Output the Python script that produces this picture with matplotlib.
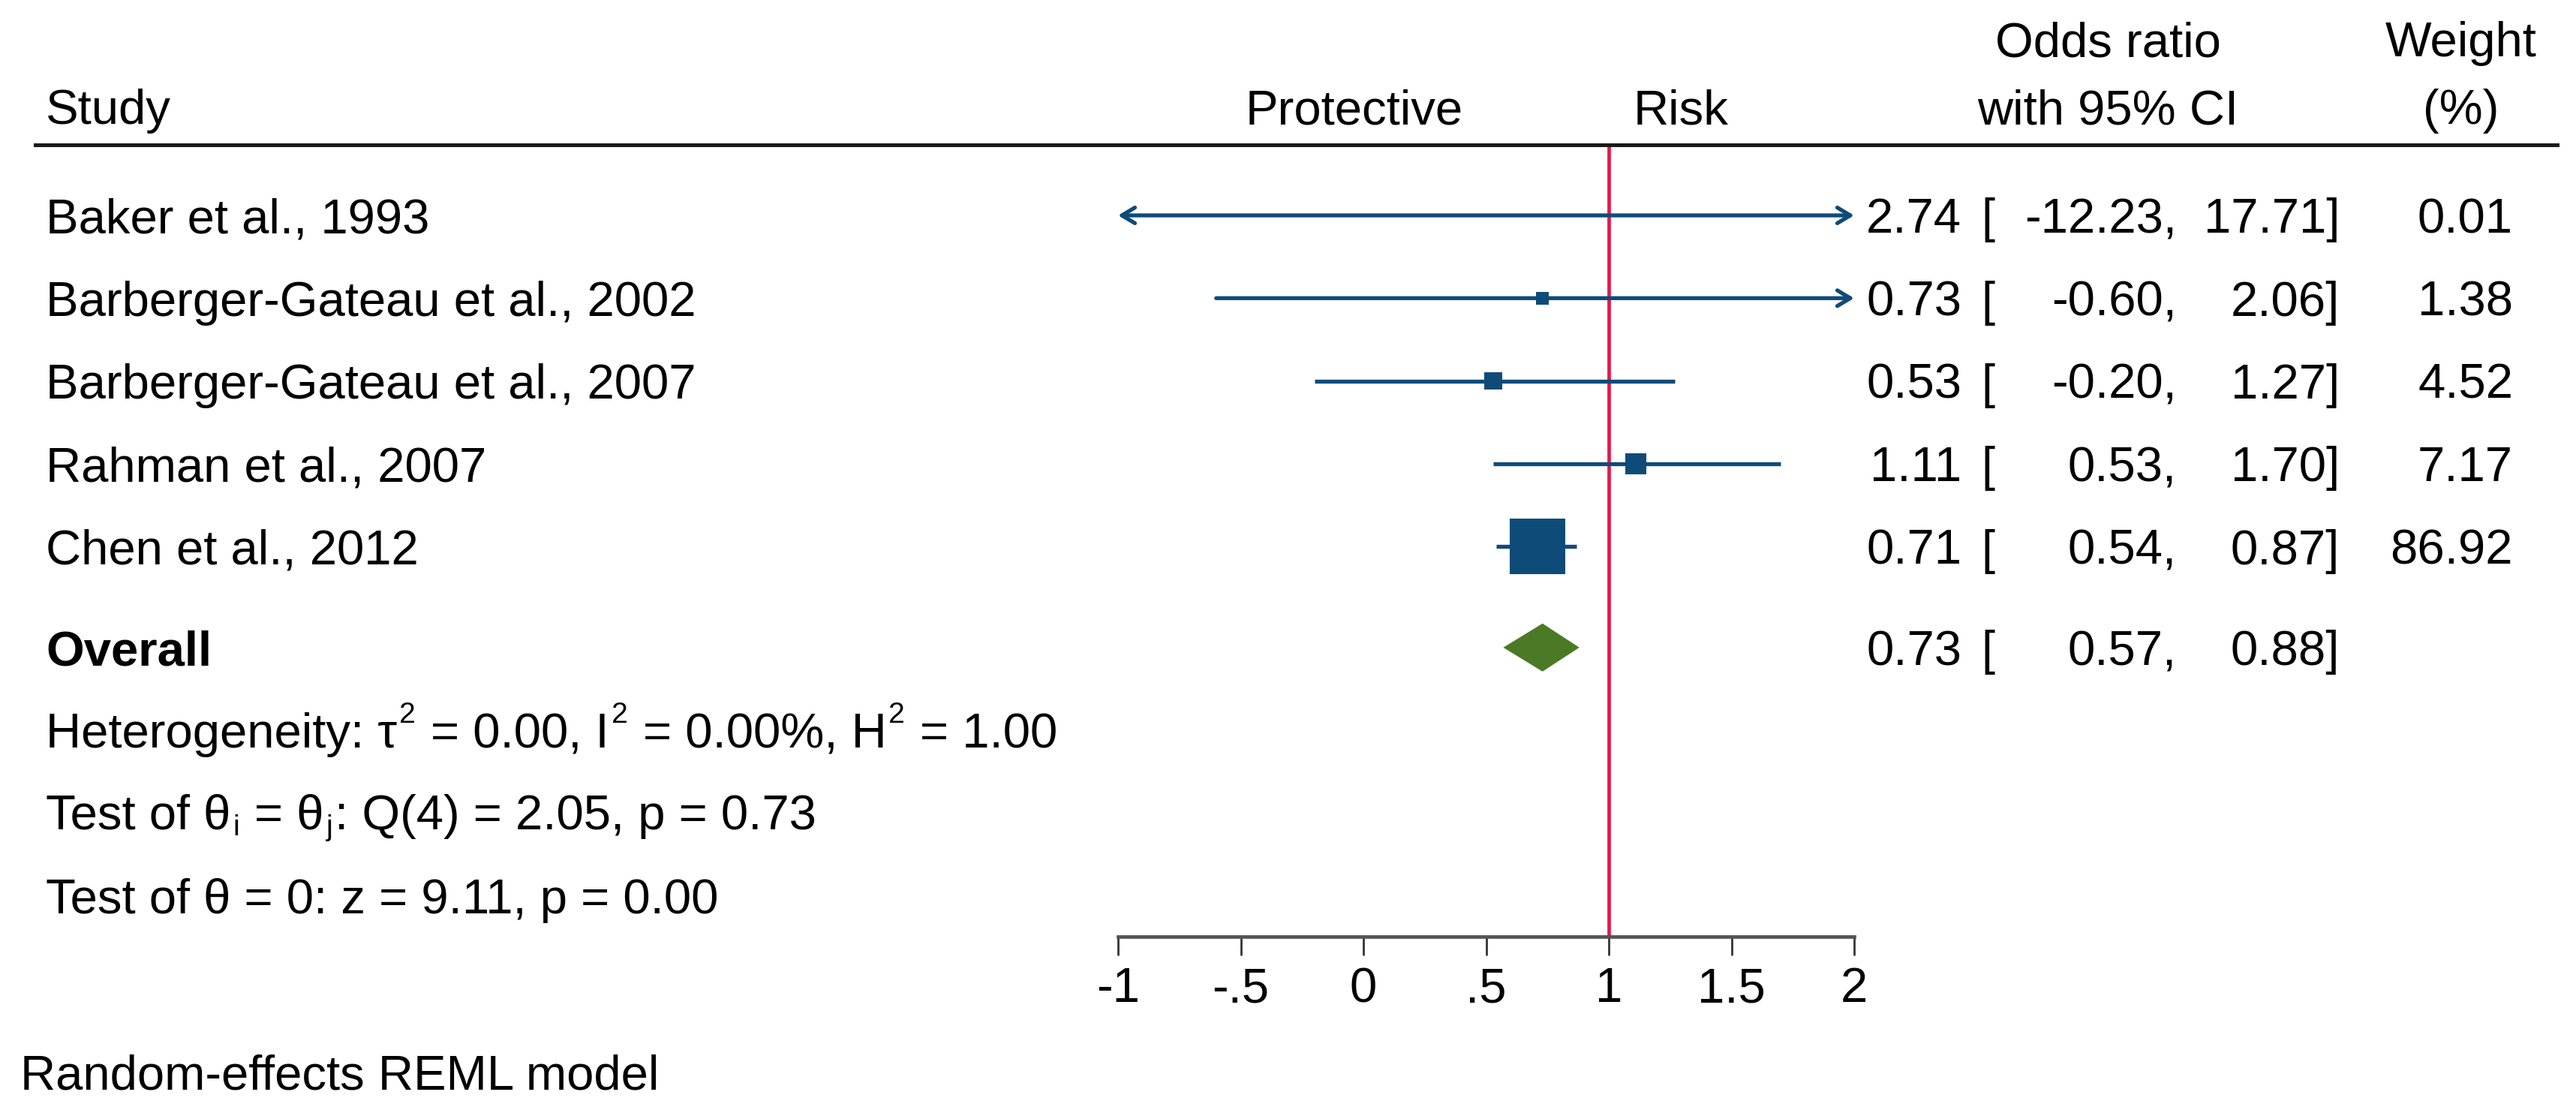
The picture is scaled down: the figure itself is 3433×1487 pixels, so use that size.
import numpy as np
import matplotlib
matplotlib.use('Agg')
import matplotlib.pyplot as plt
from matplotlib.transforms import blended_transform_factory, ScaledTranslation
from matplotlib.lines import Line2D

plt.rcParams['font.family'] = ['Liberation Sans', 'DejaVu Sans']

# ---- data -----------------------------------------------------------------
studies = ["Baker et al., 1993", "Barberger-Gateau et al., 2002",
           "Barberger-Gateau et al., 2007", "Rahman et al., 2007",
           "Chen et al., 2012"]
odds = [2.74, 0.73, 0.53, 1.11, 0.71]
ci_low = [-12.23, -0.60, -0.20, 0.53, 0.54]
ci_high = [17.71, 2.06, 1.27, 1.70, 0.87]
weights = [0.01, 1.38, 4.52, 7.17, 86.92]

overall_est = 0.73
overall_low = 0.57
overall_high = 0.88

# stats lines as runs: (text, kind) with kind n=normal, sup, sub
stats_lines = [
    [("Heterogeneity: τ", 'n'), ("2", 'sup'), (" = 0.00, I", 'n'), ("2", 'sup'),
     (" = 0.00%, H", 'n'), ("2", 'sup'), (" = 1.00", 'n')],
    [("Test of θ", 'n'), ("i", 'sub'), (" = θ", 'n'), ("j", 'sub'),
     (": Q(4) = 2.05, p = 0.73", 'n')],
    [("Test of θ = 0: z = 9.11, p = 0.00", 'n')],
]
xticks = [-1, -0.5, 0, 0.5, 1, 1.5, 2]
xtick_labels = ["-1", "-.5", "0", ".5", "1", "1.5", "2"]

# ---- layout (pixels of the 3433x1487 canvas) -----------------------------
W, H = 3433, 1487
FS = 47
NAVY = '#0f4b79'
GREEN = '#4a7a25'
RED = '#e3194b'

def fx(px):
    return px / W

def fy(py):
    return 1 - py / H

fig = plt.figure(figsize=(W / 100, H / 100), dpi=100)
renderer = fig.canvas.get_renderer()
ax_left, ax_right, ax_top, ax_bot = 1490, 2471, 193, 1248
ax = fig.add_axes([fx(ax_left), fy(ax_bot), fx(ax_right - ax_left), (ax_bot - ax_top) / H])

ROW_PX, ROW0_PX = 110.3, 287
ax.set_xlim(-1, 2)
ax.set_ylim((ax_bot - ROW0_PX) / ROW_PX, (ax_top - ROW0_PX) / ROW_PX)

rows = np.arange(len(studies))
overall_row = 5.22
stats_rows = [6.22, 7.2, 8.22]
base_off = 0.212  # baseline offset from row centre, in rows

# reference line at OR = 1
ax.axvline(1, color=RED, lw=3.4, zorder=1)

# confidence intervals (arrows where they leave the axis)
xmin, xmax = ax.get_xlim()
for r, lo, hi in zip(rows, ci_low, ci_high):
    lo_c, hi_c = max(lo, xmin), min(hi, xmax)
    left_cut, right_cut = lo < xmin, hi > xmax
    if not (left_cut or right_cut):
        ax.plot([lo_c, hi_c], [r, r], color=NAVY, lw=3.8, solid_capstyle='butt', zorder=2)
        continue
    style = {(True, True): '<->', (False, True): '->', (True, False): '<-'}[(left_cut, right_cut)]
    ax.annotate('', xy=(hi_c, r), xytext=(lo_c, r),
                arrowprops=dict(arrowstyle=style + ',head_length=0.5,head_width=0.3',
                                lw=3.8, color=NAVY, shrinkA=0, shrinkB=0,
                                mutation_scale=25), zorder=2)

# weighted squares
side_px = 8.8 + 7.0 * np.sqrt(np.array(weights))
side_pt = side_px * 72 / 100
ax.scatter(odds, rows, s=side_pt ** 2, marker='s', color=NAVY, linewidths=0, zorder=3)

# overall diamond
half_h = 0.29
ax.fill([overall_low, overall_est, overall_high, overall_est],
        [overall_row, overall_row - half_h, overall_row, overall_row + half_h],
        color=GREEN, lw=0, zorder=3)

# axes styling
for s in ['top', 'left', 'right']:
    ax.spines[s].set_visible(False)
ax.spines['bottom'].set_color('#555555')
ax.spines['bottom'].set_linewidth(3.4)
ax.set_yticks([])
ax.set_xticks(xticks, labels=xtick_labels)
ax.tick_params(axis='x', length=18, width=2, color='#333333', labelsize=FS, pad=11)
ax.patch.set_visible(False)

# ---- text -----------------------------------------------------------------
blend = blended_transform_factory(fig.transFigure, ax.transData)

# header
fig.text(fx(61), fy(165), "Study", fontsize=FS, va='baseline', ha='left')
fig.text(fx(1805), fy(165), "Protective", fontsize=FS, va='baseline', ha='center')
fig.text(fx(2240), fy(165), "Risk", fontsize=FS, va='baseline', ha='center')
fig.text(fx(2809), fy(75), "Odds ratio", fontsize=FS, va='baseline', ha='center')
fig.text(fx(2809), fy(165), "with 95% CI", fontsize=FS, va='baseline', ha='center')
fig.text(fx(3280), fy(75), "Weight", fontsize=FS, va='baseline', ha='center')
fig.text(fx(3280), fy(165), "(%)", fontsize=FS, va='baseline', ha='center')
fig.add_artist(Line2D([fx(47), fx(3408)], [fy(193), fy(193)], transform=fig.transFigure,
                      color='#1a1a1a', lw=3.6))

def value_cols(r, est, lo, hi, w=None, **kw):
    y = r + base_off
    fig.text(fx(2614), y, f"{est:.2f}", transform=blend, fontsize=FS, va='baseline', ha='right', **kw)
    fig.text(fx(2640), y, "[", transform=blend, fontsize=FS, va='baseline', ha='left', **kw)
    fig.text(fx(2901), y, f"{lo:.2f},", transform=blend, fontsize=FS, va='baseline', ha='right', **kw)
    fig.text(fx(3118), y, f"{hi:.2f}]", transform=blend, fontsize=FS, va='baseline', ha='right', **kw)
    if w is not None:
        fig.text(fx(3349), y, f"{w:.2f}", transform=blend, fontsize=FS, va='baseline', ha='right', **kw)

for r, name, est, lo, hi, w in zip(rows, studies, odds, ci_low, ci_high, weights):
    fig.text(fx(61), r + base_off, name, transform=blend, fontsize=FS, va='baseline', ha='left')
    value_cols(r, est, lo, hi, w)

fig.text(fx(61), overall_row + base_off, "Overall", transform=blend, fontsize=FS,
         va='baseline', ha='left', fontweight='bold')
value_cols(overall_row, overall_est, overall_low, overall_high)

# runs of text with Stata-like raised / lowered small characters
SPACE = 0.278 * FS * 100 / 72
RUN_STYLE = {'n': (FS, 0), 'sup': (FS * 0.6, 33), 'sub': (FS * 0.6, -8)}

def rich_text(x_px, y, pieces):
    x = x_px
    for txt, kind in pieces:
        lead = len(txt) - len(txt.lstrip(' '))
        trail = len(txt) - len(txt.rstrip(' '))
        body = txt.strip(' ')
        x += lead * SPACE
        size, dy = RUN_STYLE[kind]
        tr = blend + ScaledTranslation(0, dy / 100, fig.dpi_scale_trans)
        t = fig.text(fx(x), y, body, transform=tr, fontsize=size, va='baseline', ha='left')
        x += t.get_window_extent(renderer).width + trail * SPACE
        if kind == 'n':
            x += 3
        else:
            x += 2

for r, pieces in zip(stats_rows, stats_lines):
    rich_text(61, r + base_off, pieces)

fig.text(fx(27), fy(1452), "Random-effects REML model", fontsize=FS, va='baseline', ha='left')

fig.savefig('out.png', dpi=100, facecolor='white')
